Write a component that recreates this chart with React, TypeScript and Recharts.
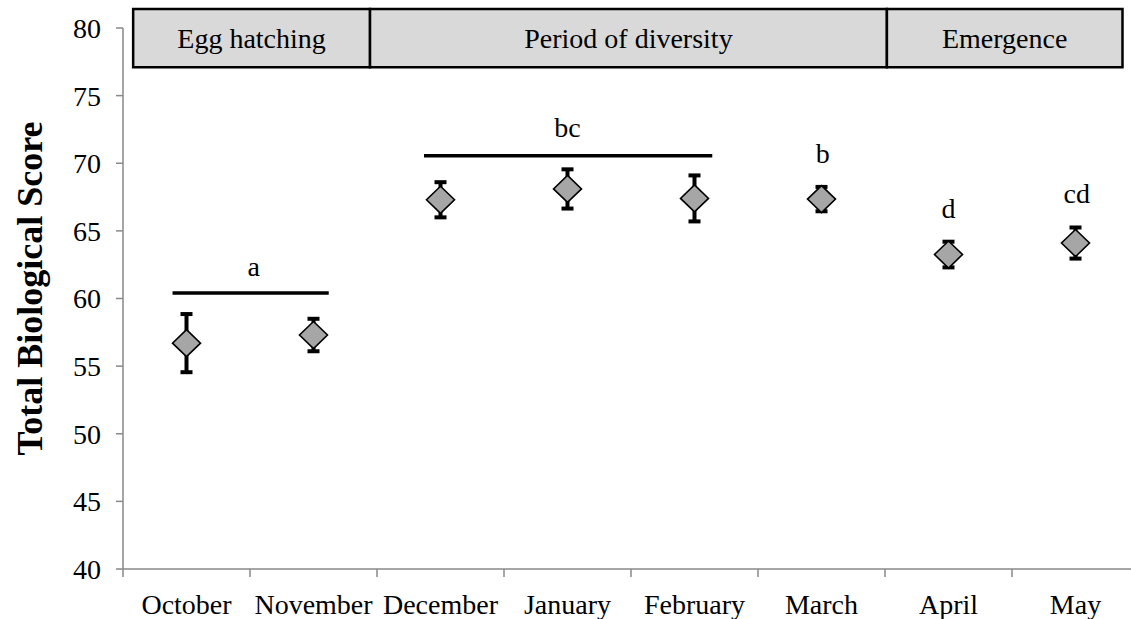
import React from 'react';
import {
  ScatterChart,
  Scatter,
  XAxis,
  YAxis,
  ErrorBar,
  ReferenceArea,
  ReferenceLine,
} from 'recharts';

// ---- data ----
const months = ['October', 'November', 'December', 'January', 'February', 'March', 'April', 'May'];
const means = [56.7, 57.3, 67.3, 68.1, 67.4, 67.35, 63.25, 64.1];
const errors = [2.15, 1.2, 1.3, 1.45, 1.7, 0.9, 0.95, 1.15];
const yTicks = [40, 45, 50, 55, 60, 65, 70, 75, 80];
const boundaryTicks = [0, 1, 2, 3, 4, 5, 6, 7, 8];
const labelTicks = [0.5, 1.5, 2.5, 3.5, 4.5, 5.5, 6.5, 7.5];

const phaseLabels = ['Egg hatching', 'Period of diversity', 'Emergence'];
const phaseStarts = [0.08, 1.945, 6.015];
const phaseEnds = [1.945, 6.015, 7.87];
const phaseBottom = 77.1;
const phaseTop = 81.4;

const groupLineStarts = [0.39, 2.37];
const groupLineEnds = [1.62, 4.64];
const groupLineY = [60.4, 70.56];

const groupLetters = ['a', 'bc', 'b', 'd', 'cd'];
const letterX = [1.03, 3.5, 5.51, 6.5, 7.51];
const letterY = [61.66, 71.94, 70.02, 65.95, 67.06];

const points = months.map((m, i) => ({ x: i + 0.5, y: means[i], err: errors[i], month: m }));
const letters = groupLetters.map((l, i) => ({ x: letterX[i], y: letterY[i], letter: l }));

const FONT = '"Liberation Serif", "Times New Roman", Times, serif';

const Diamond = (props: any) => {
  const { cx, cy } = props;
  if (cx == null || cy == null) return null;
  const w = 14;
  const h = 13.5;
  return (
    <polygon
      points={`${cx},${cy - h} ${cx + w},${cy} ${cx},${cy + h} ${cx - w},${cy}`}
      fill="#a6a6a6"
      stroke="#000"
      strokeWidth={1.6}
    />
  );
};

const LetterShape = (props: any) => {
  const { cx, cy, payload } = props;
  if (cx == null || cy == null) return null;
  return (
    <text x={cx} y={cy} textAnchor="middle" fontSize={28} fill="#000" fontFamily={FONT}>
      {payload.letter}
    </text>
  );
};

const TitleLabel = (props: any) => {
  const vb = props.viewBox || { x: 0, y: 0, width: 0, height: 0 };
  const x = vb.x + 42;
  const y = vb.y + vb.height / 2 - 10;
  return (
    <text
      x={x}
      y={y}
      transform={`rotate(-90, ${x}, ${y})`}
      textAnchor="middle"
      fontSize={36}
      fontWeight="bold"
      fill="#000"
      fontFamily={FONT}
    >
      Total Biological Score
    </text>
  );
};

export default function App() {
  return (
    <div
      style={{
        position: 'absolute',
        left: 0,
        top: 0,
        width: 1131,
        height: 619,
        overflow: 'hidden',
        background: '#fff',
        fontFamily: FONT,
      }}
    >
      <ScatterChart width={1145} height={619} margin={{ top: 28, right: 6, left: 0, bottom: 0 }}>
        <XAxis
          xAxisId="b_labels"
          type="number"
          dataKey="x"
          domain={[0, 8]}
          ticks={labelTicks}
          interval={0}
          tickFormatter={(v: number) => months[Math.floor(v)]}
          axisLine={false}
          tickLine={false}
          tickSize={0}
          tickMargin={15}
          height={40}
          tick={{ fill: '#000', fontSize: 28, fontFamily: FONT }}
          allowDataOverflow
        />
        <XAxis
          xAxisId="a_main"
          type="number"
          dataKey="x"
          domain={[0, 8]}
          ticks={boundaryTicks}
          interval={0}
          tickFormatter={() => ''}
          tickSize={8}
          height={10}
          stroke="#898989"
          strokeWidth={1.5}
          allowDataOverflow
        />
        <YAxis
          yAxisId="y"
          type="number"
          domain={[40, 80]}
          ticks={yTicks}
          interval={0}
          width={123}
          tickSize={7}
          tickMargin={15}
          stroke="#898989"
          strokeWidth={1.5}
          tick={{ fill: '#000', fontSize: 28, fontFamily: FONT }}
          allowDataOverflow
          label={{ content: TitleLabel }}
        />

        {phaseLabels.map((p, i) => (
          <ReferenceArea
            key={p}
            xAxisId="a_main"
            yAxisId="y"
            x1={phaseStarts[i]}
            x2={phaseEnds[i]}
            y1={phaseBottom}
            y2={phaseTop}
            ifOverflow="visible"
            fill="#d9d9d9"
            fillOpacity={1}
            stroke="#000"
            strokeWidth={2.5}
            label={{ value: p, position: 'center', fill: '#000', fontSize: 28, fontFamily: FONT }}
          />
        ))}

        {groupLineY.map((yv, i) => (
          <ReferenceLine
            key={'g' + i}
            xAxisId="a_main"
            yAxisId="y"
            segment={[
              { x: groupLineStarts[i], y: yv },
              { x: groupLineEnds[i], y: yv },
            ]}
            stroke="#000"
            strokeWidth={3.5}
            ifOverflow="visible"
          />
        ))}

        <Scatter
          xAxisId="a_main"
          yAxisId="y"
          data={points}
          dataKey="y"
          shape={Diamond}
          isAnimationActive={false}
        >
          <ErrorBar dataKey="err" direction="y" width={6} stroke="#000" strokeWidth={4} isAnimationActive={false} />
        </Scatter>

        <Scatter
          xAxisId="a_main"
          yAxisId="y"
          data={letters}
          dataKey="y"
          shape={LetterShape}
          isAnimationActive={false}
        />
      </ScatterChart>
    </div>
  );
}
